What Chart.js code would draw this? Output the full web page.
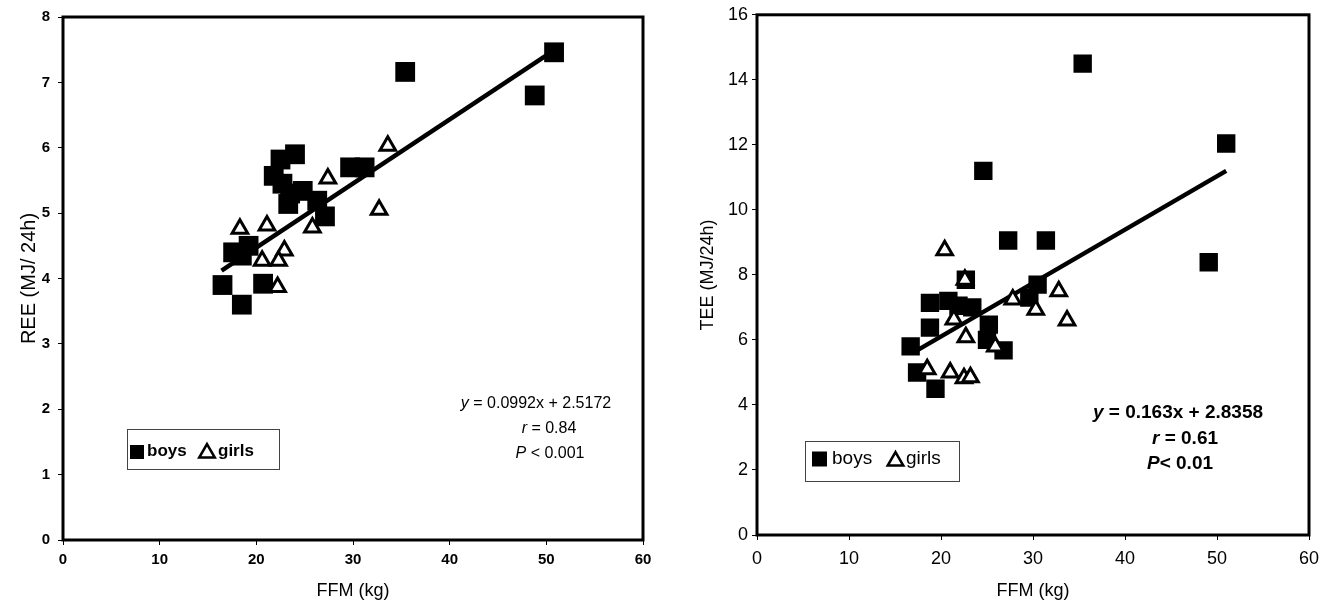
<!DOCTYPE html>
<html>
<head>
<meta charset="utf-8">
<script src="https://cdn.jsdelivr.net/npm/chart.js@4.4.1/dist/chart.umd.min.js"></script>
<style>
html, body { margin: 0; padding: 0; background: #fff; }
#wrap { position: relative; width: 1329px; height: 610px; }
.box { position: absolute; top: 0; height: 610px; }
</style>
</head>
<body>
<div id="wrap">
  <div class="box" style="left:0;width:660px"><canvas id="ree"></canvas></div>
  <div class="box" style="left:660px;width:669px"><canvas id="tee"></canvas></div>
</div>
<script>
// left panel: REE (MJ/24h) vs FFM (kg)
var reeBoysX = [16.5, 18.5, 20.7, 17.6, 18.5, 19.2, 21.8, 22.5, 24.0, 22.7, 23.5, 23.3, 24.8, 26.3, 27.1, 29.7, 31.2, 35.4, 48.8, 50.8];
var reeBoysY = [3.9, 3.6, 3.92, 4.4, 4.35, 4.5, 5.57, 5.82, 5.9, 5.45, 5.3, 5.14, 5.34, 5.19, 4.95, 5.7, 5.7, 7.16, 6.8, 7.46];
var reeGirlsX = [18.3, 21.1, 22.9, 22.3, 20.6, 22.2, 25.8, 27.4, 33.6, 32.7];
var reeGirlsY = [4.76, 4.81, 4.43, 4.27, 4.27, 3.87, 4.78, 5.53, 6.03, 5.05];
var reeLineX = [16.4, 50.9];
var reeLineY = [4.12, 7.5];

// right panel: TEE (MJ/24h) vs FFM (kg)
var teeBoysX = [16.7, 17.4, 18.8, 18.8, 19.4, 20.8, 21.9, 22.7, 23.4, 25.2, 25.0, 26.8, 24.6, 27.3, 31.4, 30.5, 29.6, 35.4, 49.1, 51.0];
var teeBoysY = [5.8, 5.0, 6.38, 7.14, 4.5, 7.2, 7.05, 7.85, 7.0, 6.47, 6.0, 5.68, 11.2, 9.06, 9.06, 7.7, 7.3, 14.5, 8.39, 12.04];
var teeGirlsX = [20.4, 22.6, 21.4, 22.7, 25.9, 18.5, 21.0, 22.5, 23.2, 27.8, 30.3, 32.8, 33.7];
var teeGirlsY = [8.76, 7.85, 6.63, 6.08, 5.8, 5.1, 5.0, 4.82, 4.85, 7.24, 6.93, 7.5, 6.6];
var teeLineX = [17.4, 51.0];
var teeLineY = [5.68, 11.2];

var FONT = '"Liberation Sans", Arial, sans-serif';

function pts(xs, ys) {
    return xs.map(function (x, i) { return { x: x, y: ys[i] }; });
}

// draw a line of text made of normal / italic parts, centred on cx
function drawRich(ctx, parts, cx, cy, size, weight) {
    var w = 0;
    parts.forEach(function (p) {
        ctx.font = (p[1] ? 'italic ' : '') + weight + ' ' + size + 'px ' + FONT;
        w += ctx.measureText(p[0]).width;
    });
    var x = cx - w / 2;
    ctx.textBaseline = 'middle';
    ctx.textAlign = 'left';
    parts.forEach(function (p) {
        ctx.font = (p[1] ? 'italic ' : '') + weight + ' ' + size + 'px ' + FONT;
        ctx.fillText(p[0], x, cy);
        x += ctx.measureText(p[0]).width;
    });
}

function tri(ctx, cx, cy, r, lw) {
    ctx.beginPath();
    ctx.moveTo(cx, cy - r);
    ctx.lineTo(cx + r * 0.866, cy + r * 0.5);
    ctx.lineTo(cx - r * 0.866, cy + r * 0.5);
    ctx.closePath();
    ctx.fillStyle = '#fff';
    ctx.fill();
    ctx.lineWidth = lw;
    ctx.strokeStyle = '#000';
    ctx.stroke();
}

// frame, legend box and the fit text
function extras(o) {
    return {
        id: 'extras',
        afterDraw: function (chart) {
            var ctx = chart.ctx, a = chart.chartArea, dx = o.offset;
            ctx.save();
            ctx.strokeStyle = '#000';
            ctx.lineWidth = 3;
            ctx.strokeRect(a.left, a.top, a.right - a.left, a.bottom - a.top);

            // legend
            var L = o.legend;
            ctx.lineWidth = 1;
            ctx.strokeStyle = '#444';
            ctx.strokeRect(L.x - dx + 0.5, L.y + 0.5, L.w, L.h);
            ctx.fillStyle = '#000';
            ctx.fillRect(L.sq[0] - dx - L.sq[2] / 2, L.sq[1] - L.sq[2] / 2, L.sq[2], L.sq[2]);
            tri(ctx, L.tr[0] - dx, L.tr[1], L.tr[2], 2.5);
            ctx.fillStyle = '#000';
            ctx.font = L.font + ' ' + FONT;
            ctx.textBaseline = 'middle';
            ctx.textAlign = 'left';
            ctx.fillText('boys', L.boys[0] - dx, L.boys[1]);
            ctx.fillText('girls', L.girls[0] - dx, L.girls[1]);

            // regression text
            ctx.fillStyle = '#000';
            o.text.forEach(function (t) {
                drawRich(ctx, t.parts, t.x - dx, t.y, o.textSize, o.textWeight);
            });
            ctx.restore();
        }
    };
}

function makeChart(id, d) {
    return new Chart(document.getElementById(id), {
        type: 'scatter',
        data: {
            datasets: [{
                label: 'girls',
                data: pts(d.gx, d.gy),
                pointStyle: 'triangle',
                pointRadius: d.triR,
                backgroundColor: '#fff',
                borderColor: '#000',
                borderWidth: 3,
                order: 0
            }, {
                label: 'fit',
                type: 'line',
                data: pts(d.lx, d.ly),
                borderColor: '#000',
                borderWidth: 4.5,
                pointRadius: 0,
                order: 1
            }, {
                label: 'boys',
                data: pts(d.bx, d.by),
                pointStyle: 'rect',
                pointRadius: d.sqR,
                backgroundColor: '#000',
                borderWidth: 0,
                order: 2
            }]
        },
        options: {
            responsive: true,
            maintainAspectRatio: false,
            animation: false,
            layout: { padding: { left: 0, right: d.padRight, top: d.padTop, bottom: 0 } },
            plugins: { legend: { display: false }, tooltip: { enabled: false } },
            scales: {
                x: {
                    type: 'linear',
                    min: 0, max: 60,
                    afterFit: function (s) { s.height = d.xH; },
                    ticks: { stepSize: 10, color: '#000', padding: d.xTickPad, maxRotation: 0,
                             font: { family: FONT, size: d.tickSize, weight: d.tickWeight } },
                    grid: { drawOnChartArea: false, tickLength: 5, color: '#000' },
                    border: { display: false },
                    title: { display: true, text: 'FFM (kg)', color: '#000',
                             font: { family: FONT, size: 18 }, padding: { top: 0, bottom: 8 } }
                },
                y: {
                    min: 0, max: d.yMax,
                    afterFit: function (s) { s.width = d.yW; },
                    ticks: { stepSize: d.yStep, color: '#000', padding: d.yTickPad,
                             font: { family: FONT, size: d.tickSize, weight: d.tickWeight } },
                    grid: { drawOnChartArea: false, tickLength: 5, color: '#000' },
                    border: { display: false },
                    title: { display: true, text: d.yTitle, color: '#000',
                             font: { family: FONT, size: d.yTitleSize }, padding: { top: d.yTitlePad, bottom: 0 } }
                }
            }
        },
        plugins: [extras(d.extra)]
    });
}

makeChart('ree', {
    bx: reeBoysX, by: reeBoysY, gx: reeGirlsX, gy: reeGirlsY, lx: reeLineX, ly: reeLineY,
    sqR: 14, triR: 9, yMax: 8, yStep: 1, yTitle: 'REE (MJ/ 24h)', yTitleSize: 20,
    padRight: 17, padTop: 16, xH: 70, yW: 63, xTickPad: 6, yTickPad: 8, yTitlePad: 17,
    tickSize: 15, tickWeight: 'bold',
    extra: {
        offset: 0,
        legend: { x: 127, y: 429, w: 152, h: 40, sq: [137, 452, 14], tr: [207, 453, 9],
                  boys: [147, 451], girls: [218, 451], font: 'bold 17px' },
        textSize: 16, textWeight: 'normal',
        text: [
            { parts: [['y', true], [' = 0.0992x + 2.5172', false]], x: 536, y: 404 },
            { parts: [['r', true], [' = 0.84', false]], x: 549, y: 429 },
            { parts: [['P', true], [' < 0.001', false]], x: 550, y: 454 }
        ]
    }
});

makeChart('tee', {
    bx: teeBoysX, by: teeBoysY, gx: teeGirlsX, gy: teeGirlsY, lx: teeLineX, ly: teeLineY,
    sqR: 13, triR: 9, yMax: 16, yStep: 2, yTitle: 'TEE (MJ/24h)', yTitleSize: 18,
    padRight: 20, padTop: 9, xH: 75, yW: 97, xTickPad: 8, yTickPad: 4, yTitlePad: 37,
    tickSize: 18, tickWeight: 'normal',
    extra: {
        offset: 660,
        legend: { x: 805, y: 441, w: 154, h: 40, sq: [819.5, 459, 15], tr: [895.5, 461, 9],
                  boys: [832, 459], girls: [906, 459], font: '19px' },
        textSize: 19, textWeight: 'bold',
        text: [
            { parts: [['y', true], [' = 0.163x + 2.8358', false]], x: 1178, y: 413 },
            { parts: [['r', true], [' = 0.61', false]], x: 1185, y: 439 },
            { parts: [['P', true], ['< 0.01', false]], x: 1180, y: 464 }
        ]
    }
});
</script>
</body>
</html>
